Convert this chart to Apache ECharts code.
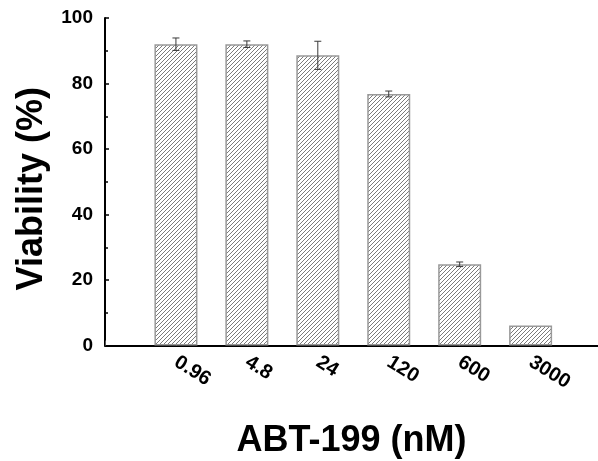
<!DOCTYPE html>
<html>
<head>
<meta charset="utf-8">
<script src="https://cdn.jsdelivr.net/npm/echarts@6/dist/echarts.min.js"></script>
<style>
  html, body { margin: 0; padding: 0; background: #fff; }
  #main { width: 598px; height: 461px; }
</style>
</head>
<body>
<div id="main"></div>
<script>
  var doses = ['0.96', '4.8', '24', '120', '600', '3000']
  var viability = [92.0, 92.0, 88.6, 76.8, 24.8, 6.1]
  var errors = [1.9, 1.0, 4.3, 0.9, 0.7, 0]

  // hatch pattern "////"
  var hatch = document.createElement('canvas')
  hatch.width = 4
  hatch.height = 4
  var ctx = hatch.getContext('2d')
  ctx.fillStyle = '#fff'
  ctx.fillRect(0, 0, 4, 4)
  ctx.strokeStyle = '#7a7a7a'
  ctx.lineWidth = 1
  ctx.beginPath()
  ctx.moveTo(-1, 5); ctx.lineTo(5, -1)
  ctx.moveTo(-1, 1); ctx.lineTo(1, -1)
  ctx.moveTo(3, 5); ctx.lineTo(5, 3)
  ctx.stroke()

  var barData = doses.map(function (d, i) { return [i + 1, viability[i]] })
  var errData = doses.map(function (d, i) { return [i + 1, viability[i] - errors[i], viability[i] + errors[i]] })

  var font = "'Liberation Sans', Arial, sans-serif"
  var myChart = echarts.init(document.getElementById('main'))
  var option = {
    animation: false,
    grid: { left: 105, right: 0, top: 18, bottom: 115.5, containLabel: false, outerBoundsMode: 'none' },
    xAxis: {
      type: 'value',
      min: 0,
      max: 6.95,
      interval: 1,
      splitLine: { show: false },
      axisLine: { lineStyle: { color: '#000', width: 2 } },
      axisTick: { inside: true, length: 5, lineStyle: { color: '#555' } },
      axisLabel: {
        rotate: -32,
        margin: 15,
        color: '#000',
        fontSize: 20,
        fontWeight: 'bold',
        fontFamily: font,
        showMaxLabel: false,
        formatter: function (v) { return doses[v - 1] || '' }
      },
      name: 'ABT-199 (nM)',
      nameLocation: 'middle',
      nameGap: 78,
      nameTextStyle: { color: '#000', fontSize: 36, fontWeight: 'bold', fontFamily: font }
    },
    yAxis: {
      type: 'value',
      min: 0,
      max: 100,
      interval: 20,
      splitLine: { show: false },
      axisLine: { show: true, lineStyle: { color: '#000', width: 2 } },
      axisTick: { show: true, inside: true, length: 4, lineStyle: { color: '#000', width: 1.5 } },
      minorTick: { show: true, splitNumber: 2, length: 3, lineStyle: { color: '#000', width: 1.5 } },
      axisLabel: { margin: 12, color: '#000', fontSize: 19, fontWeight: 'bold', fontFamily: font },
      name: 'Viability (%)',
      nameLocation: 'middle',
      nameGap: 52,
      nameTextStyle: { color: '#000', fontSize: 36, fontWeight: 'bold', fontFamily: font, padding: [0, 14, 0, 0] }
    },
    series: [{
      type: 'bar',
      data: barData,
      barWidth: 43,
      itemStyle: {
        color: { image: hatch, repeat: 'repeat' },
        borderColor: '#999',
        borderWidth: 1.5
      }
    }, {
      type: 'custom',
      data: errData,
      z: 5,
      renderItem: function (params, api) {
        var x = api.value(0)
        var lo = api.coord([x, api.value(1)])
        var hi = api.coord([x, api.value(2)])
        if (Math.abs(lo[1] - hi[1]) < 0.5) return
        var cap = 3.5
        var style = { stroke: '#3a3a3a', lineWidth: 1, fill: null }
        return {
          type: 'group',
          children: [
            { type: 'line', shape: { x1: lo[0], y1: lo[1], x2: hi[0], y2: hi[1] }, style: style },
            { type: 'line', shape: { x1: lo[0] - cap, y1: lo[1], x2: lo[0] + cap, y2: lo[1] }, style: style },
            { type: 'line', shape: { x1: hi[0] - cap, y1: hi[1], x2: hi[0] + cap, y2: hi[1] }, style: style }
          ]
        }
      }
    }]
  }

  myChart.setOption(option)
</script>
</body>
</html>
